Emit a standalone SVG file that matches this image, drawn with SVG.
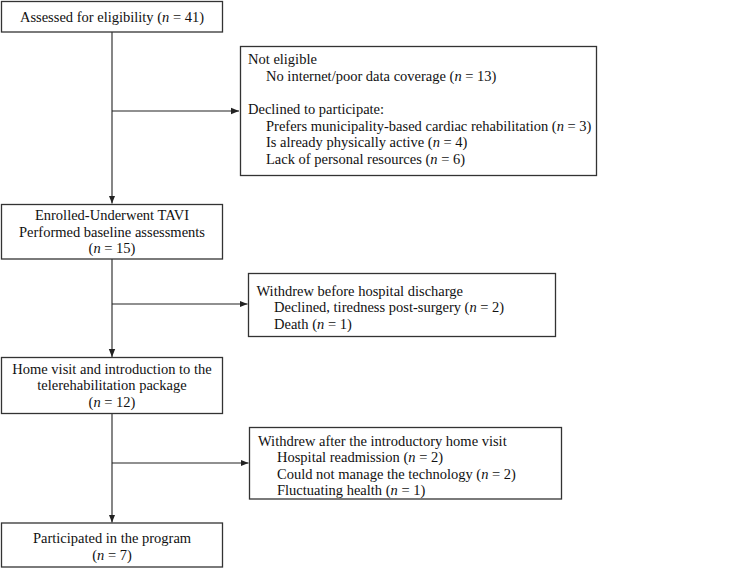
<svg xmlns="http://www.w3.org/2000/svg" width="756" height="568" viewBox="0 0 756 568">
<defs>
<marker id="ah" viewBox="0 0 10 10" refX="10" refY="5" markerWidth="8" markerHeight="8" markerUnits="userSpaceOnUse" orient="auto">
<path d="M0,1 L10,5 L0,9 z" fill="#222"/>
</marker>
<style>
.box{fill:#fff;stroke:#333;stroke-width:1.3}
.t{font-family:"Liberation Serif","DejaVu Serif",serif;font-size:14.5px;fill:#111}
.c{text-anchor:middle}
.i{font-style:italic}
.ln{stroke:#222;stroke-width:1.1;fill:none}
</style>
</defs>
<rect width="756" height="568" fill="#fff"/>
<g id="connectors">
<line class="ln" x1="112" y1="32" x2="112" y2="203.5" marker-end="url(#ah)"/>
<line class="ln" x1="112" y1="111" x2="239" y2="111" marker-end="url(#ah)"/>
<line class="ln" x1="112" y1="259" x2="112" y2="357" marker-end="url(#ah)"/>
<line class="ln" x1="112" y1="304" x2="247.5" y2="304" marker-end="url(#ah)"/>
<line class="ln" x1="112" y1="413" x2="112" y2="522.5" marker-end="url(#ah)"/>
<line class="ln" x1="112" y1="463" x2="248.5" y2="463" marker-end="url(#ah)"/>
</g>
<g id="n1">
<rect class="box" x="1.5" y="1.5" width="221" height="30.5"/>
<text class="t c" x="112" y="21.5">Assessed for eligibility (<tspan class="i">n</tspan> = 41)</text>
</g>
<g id="n2">
<rect class="box" x="240.5" y="46.5" width="356" height="129"/>
<text class="t" x="248" y="63.5">Not eligible</text>
<text class="t" x="266" y="80.5">No internet/poor data coverage (<tspan class="i">n</tspan> = 13)</text>
<text class="t" x="248" y="114">Declined to participate:</text>
<text class="t" x="266" y="130.5">Prefers municipality-based cardiac rehabilitation (<tspan class="i">n</tspan> = 3)</text>
<text class="t" x="266" y="147">Is already physically active (<tspan class="i">n</tspan> = 4)</text>
<text class="t" x="266" y="164">Lack of personal resources (<tspan class="i">n</tspan> = 6)</text>
</g>
<g id="n3">
<rect class="box" x="1.5" y="204.5" width="221" height="54.5"/>
<text class="t c" x="112" y="220">Enrolled-Underwent TAVI</text>
<text class="t c" x="112" y="236.5">Performed baseline assessments</text>
<text class="t c" x="112" y="253">(<tspan class="i">n</tspan> = 15)</text>
</g>
<g id="n4">
<rect class="box" x="248.5" y="273.5" width="307" height="63"/>
<text class="t" x="256.5" y="295.5">Withdrew before hospital discharge</text>
<text class="t" x="274" y="312">Declined, tiredness post-surgery (<tspan class="i">n</tspan> = 2)</text>
<text class="t" x="274" y="328.5">Death (<tspan class="i">n</tspan> = 1)</text>
</g>
<g id="n5">
<rect class="box" x="1.5" y="357.5" width="221" height="56"/>
<text class="t c" x="112" y="373.5">Home visit and introduction to the</text>
<text class="t c" x="112" y="390">telerehabilitation package</text>
<text class="t c" x="112" y="406.5">(<tspan class="i">n</tspan> = 12)</text>
</g>
<g id="n6">
<rect class="box" x="249.5" y="427.5" width="312" height="71.5"/>
<text class="t" x="258" y="445.5">Withdrew after the introductory home visit</text>
<text class="t" x="277" y="462">Hospital readmission (<tspan class="i">n</tspan> = 2)</text>
<text class="t" x="277" y="478.5">Could not manage the technology (<tspan class="i">n</tspan> = 2)</text>
<text class="t" x="277" y="495">Fluctuating health (<tspan class="i">n</tspan> = 1)</text>
</g>
<g id="n7">
<rect class="box" x="1.5" y="523" width="221" height="44"/>
<text class="t c" x="112" y="543">Participated in the program</text>
<text class="t c" x="112" y="560">(<tspan class="i">n</tspan> = 7)</text>
</g>
</svg>
